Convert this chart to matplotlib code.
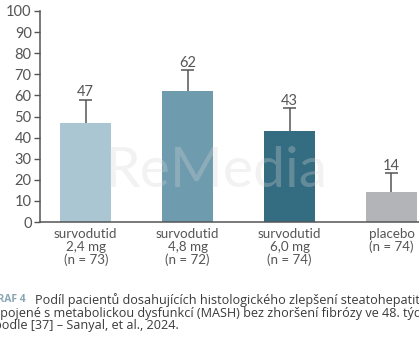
import matplotlib
matplotlib.use("Agg")
import matplotlib.pyplot as plt

# Data
categories = ["survodutid\n2,4 mg\n(n = 73)", "survodutid\n4,8 mg\n(n = 72)",
              "survodutid\n6,0 mg\n(n = 74)", "placebo\n(n = 74)"]
values = [47, 62, 43, 14]
err_upper = [11, 10, 11, 9]
bar_colors = ["#aac6d3", "#6f9bae", "#346c81", "#b3b4b7"]
yticks = list(range(0, 101, 10))

caption_lines = [
    "Podíl pacientů dosahujících histologického zlepšení steatohepatitidy",
    "spojené s metabolickou dysfunkcí (MASH) bez zhoršení fibrózy ve 48. týdnu",
    "podle [37] – Sanyal, et al., 2024.",
]

W, H = 419, 348
fig = plt.figure(figsize=(W / 100, H / 100), dpi=100)
fig.patch.set_facecolor("white")

font = "Lato"
cap_font = "Open Sans"
txt_color = "#555555"
line_color = "#555555"

ax = fig.add_axes([40 / W, 1 - 222 / H, 1 - 40 / W, (222 - 11) / H])
x = list(range(len(values)))
ax.bar(x, values, width=0.5, color=bar_colors, zorder=2)

# Upper-only error whiskers with caps
cap_half = 0.064
tops = [v + e for v, e in zip(values, err_upper)]
ax.vlines(x, values, tops, color=line_color, linewidth=1.1, zorder=3)
ax.hlines(tops, [xi - cap_half for xi in x], [xi + cap_half for xi in x],
          color=line_color, linewidth=1.1, zorder=3)

for xi, t, v in zip(x, tops, values):
    ax.annotate(str(v), (xi, t), xytext=(0, 0.3), textcoords="offset points",
                ha="center", va="bottom", fontsize=10.5, color=txt_color, family=font)

ax.set_ylim(0, 100)
ax.set_xlim(-0.449, 3.27)
ax.set_yticks(yticks)
ax.set_yticklabels([str(t) for t in yticks], family=font, fontsize=10.5, color=txt_color)
ax.set_xticks(x)
ax.set_xticklabels(categories, family=font, fontsize=9.6, color=txt_color, linespacing=1.1)
ax.tick_params(axis="y", length=4.5, width=1, color=line_color, pad=1.5)
ax.tick_params(axis="x", length=0, pad=4)
for s in ["top", "right"]:
    ax.spines[s].set_visible(False)
for s in ["left", "bottom"]:
    ax.spines[s].set_color(line_color)
    ax.spines[s].set_linewidth(1.1)

ax.set_ylabel("pacienti (%)", family=font, fontsize=10, color=txt_color, labelpad=27)

# Watermark
fig.text(216 / W, 1 - 172 / H, "ReMedia", ha="center", va="center",
         fontsize=41, color="#d4d4d4", alpha=0.3, family="Lato", zorder=5)

# Caption
fig.text(-10 / W, 1 - 300 / H, "GRAF 4", ha="left", va="center", fontsize=7.5,
         color="#8aa6b4", family=cap_font, weight="bold")
fig.text(35 / W, 1 - 300 / H, caption_lines[0], ha="left", va="center",
         fontsize=9.1, color="#3a3a3a", family=cap_font)
fig.text(-6 / W, 1 - 313 / H, caption_lines[1], ha="left", va="center",
         fontsize=9.1, color="#3a3a3a", family=cap_font)
fig.text(-6 / W, 1 - 326 / H, caption_lines[2], ha="left", va="center",
         fontsize=9.1, color="#3a3a3a", family=cap_font)

fig.savefig("out.png", dpi=100, facecolor="white")
